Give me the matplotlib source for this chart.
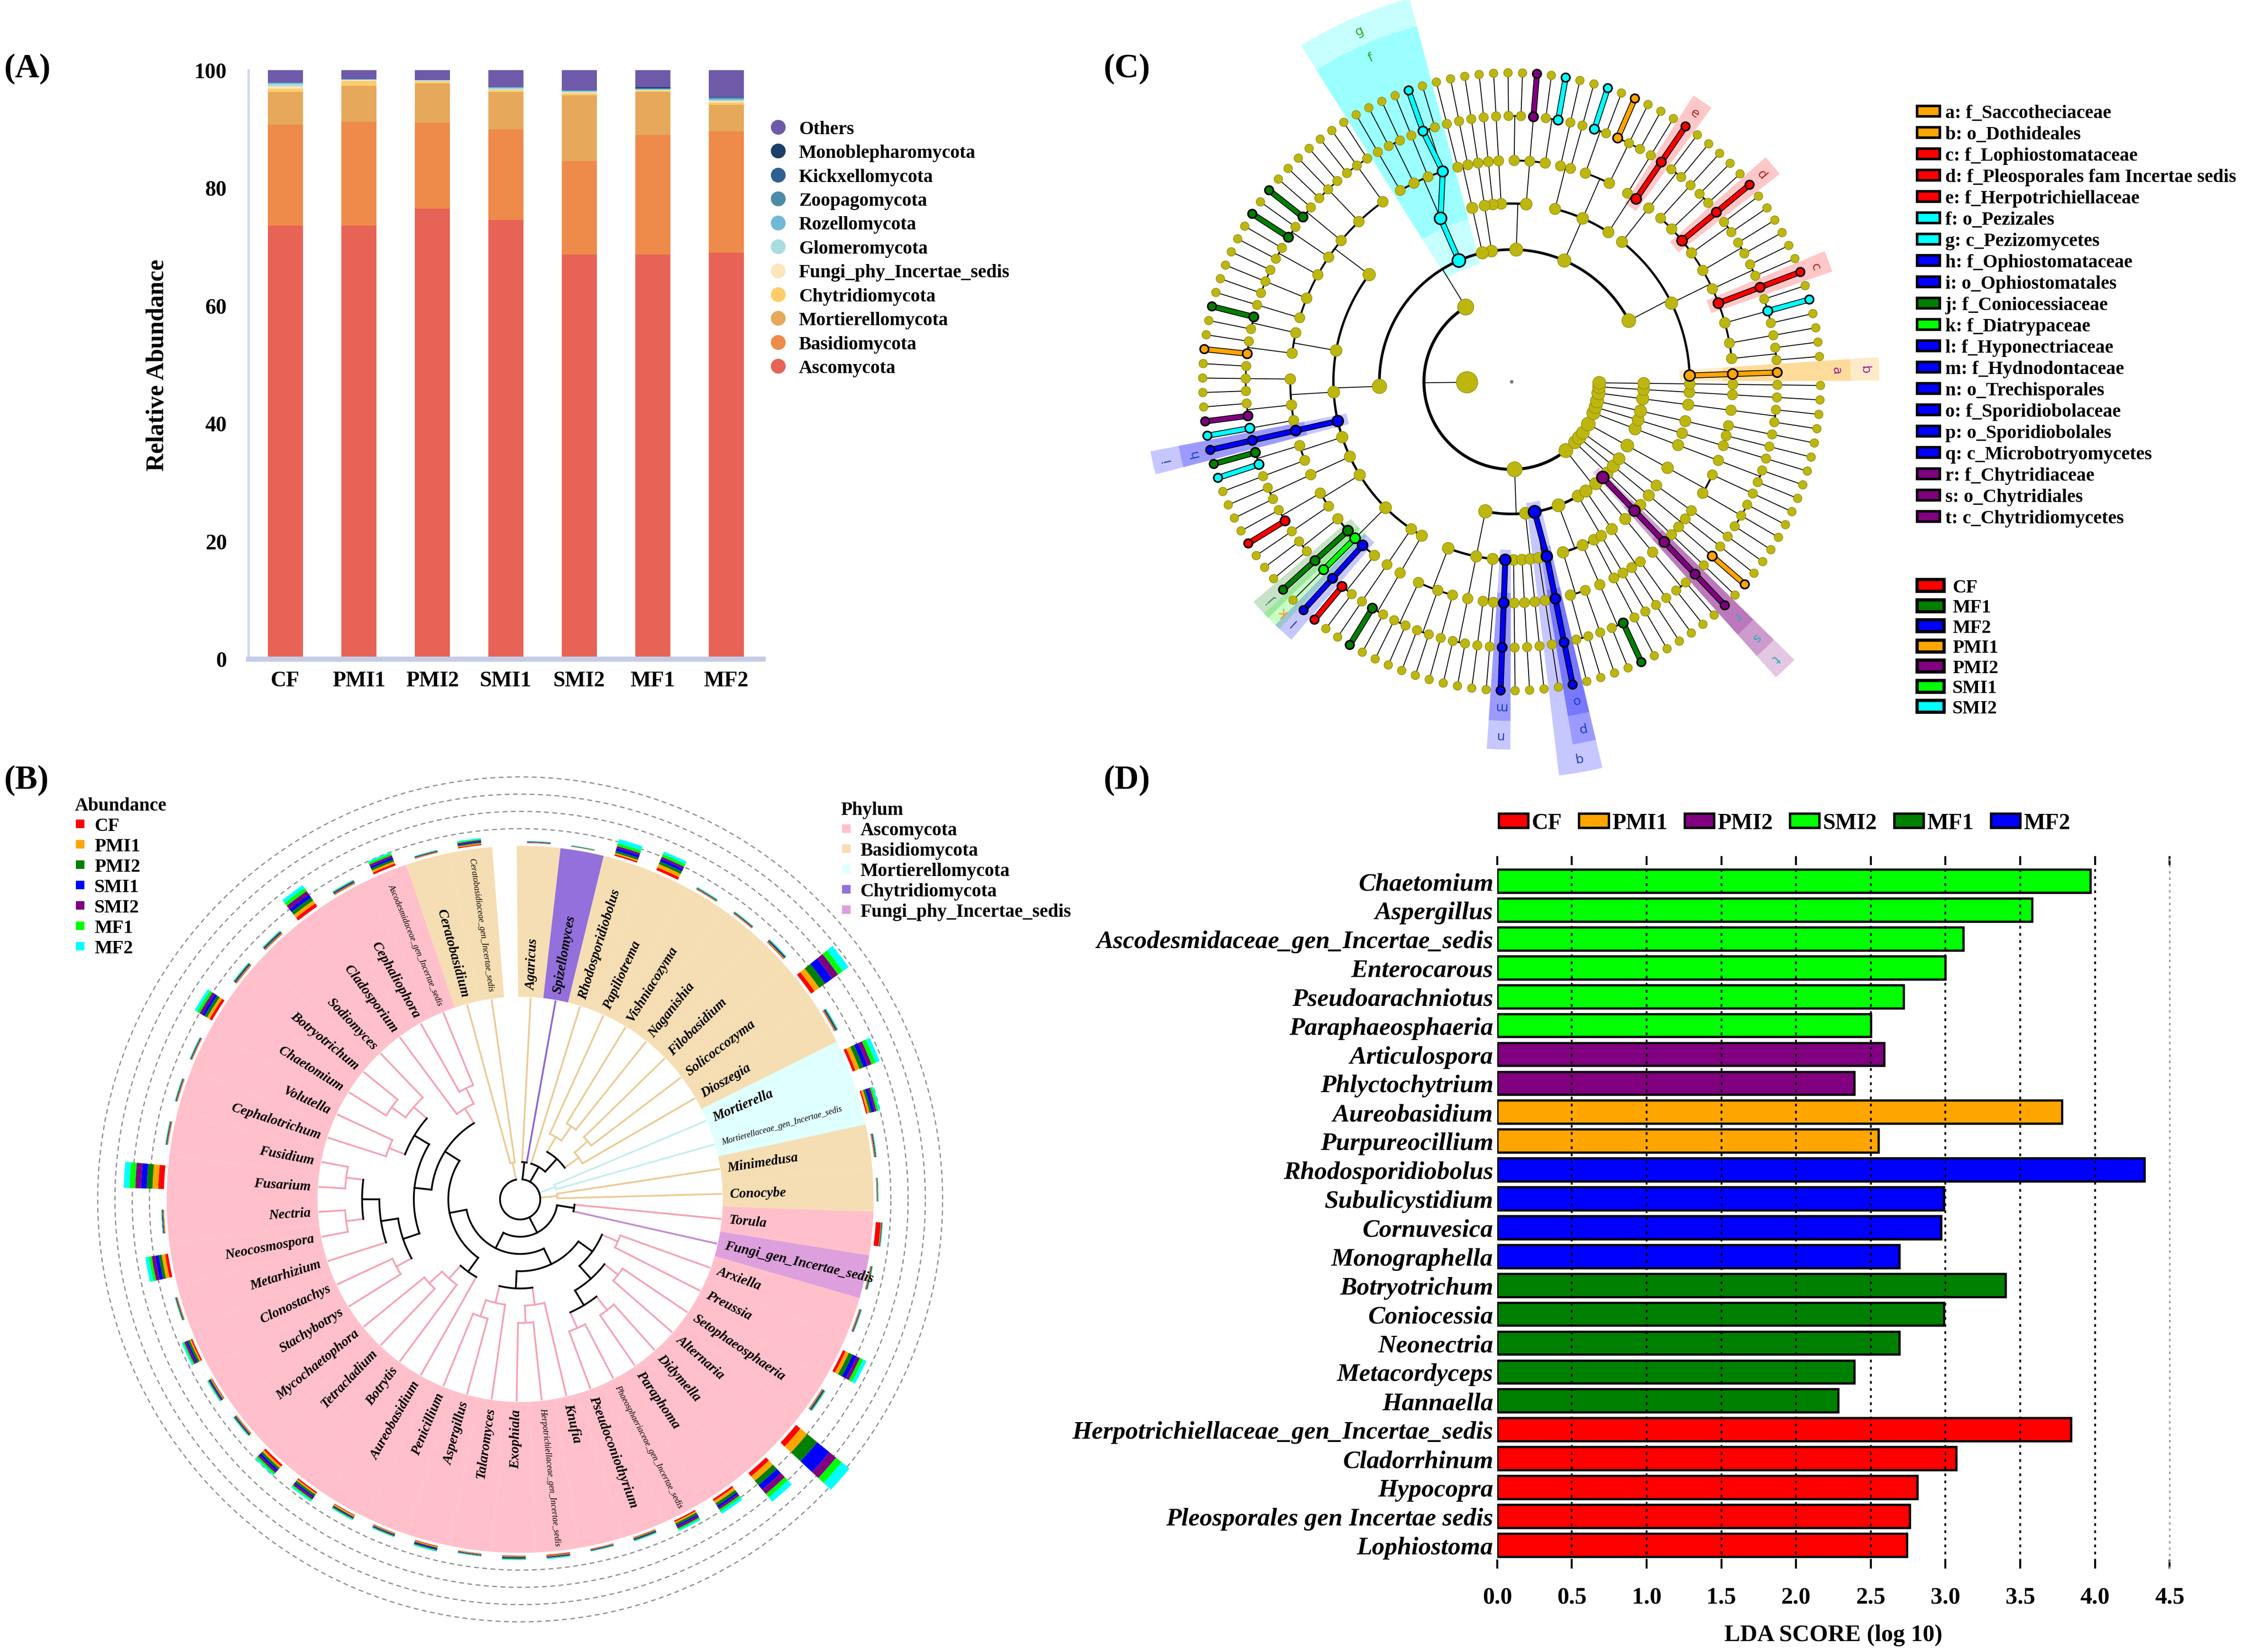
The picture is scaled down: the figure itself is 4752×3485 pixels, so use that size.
import numpy as np
import matplotlib.pyplot as plt
import matplotlib.patheffects as pe
from matplotlib.patches import Wedge, Patch
from matplotlib.lines import Line2D

plt.rcParams['font.family'] = ['Liberation Serif', 'DejaVu Serif']
plt.rcParams['font.weight'] = 'bold'

# layout grid of the reference figure (1568 x 1150 units)
W, H = 1568.0, 1150.0
PX = 0.727  # points per layout unit


def fx(x):
    return x / W


def fy(y):
    return 1.0 - y / H


def pol(r, th):
    t = np.deg2rad(th)
    return r * np.cos(t), r * np.sin(t)


# ---------------- (A) phylum composition (%) ----------------
samples = ['CF', 'PMI1', 'PMI2', 'SMI1', 'SMI2', 'MF1', 'MF2']
ascomycota = [73.6, 73.6, 76.5, 74.5, 68.7, 68.7, 69.0]
basidiomycota = [17.1, 17.6, 14.5, 15.4, 15.8, 20.2, 20.6]
mortierellomycota = [5.6, 6.1, 6.7, 6.4, 11.2, 7.4, 4.5]
chytridiomycota = [0.5, 0.8, 0.3, 0.25, 0.3, 0.2, 0.4]
fungi_phy_incertae = [0.4, 0.15, 0.1, 0.15, 0.15, 0.1, 0.2]
glomeromycota = [0.4, 0.1, 0.15, 0.2, 0.2, 0.1, 0.2]
rozellomycota = [0.2, 0.05, 0.05, 0.2, 0.15, 0.1, 0.2]
zoopagomycota = [0.05, 0.0, 0.0, 0.0, 0.0, 0.05, 0.2]
kickxellomycota = [0.05, 0.0, 0.0, 0.0, 0.0, 0.05, 0.1]
monoblepharomycota = [0.0, 0.0, 0.0, 0.0, 0.0, 0.2, 0.0]
others = [2.1, 1.6, 1.7, 2.9, 3.5, 2.9, 4.6]

a_names = ['Ascomycota', 'Basidiomycota', 'Mortierellomycota', 'Chytridiomycota',
           'Fungi_phy_Incertae_sedis', 'Glomeromycota', 'Rozellomycota',
           'Zoopagomycota', 'Kickxellomycota', 'Monoblepharomycota', 'Others']
a_values = [ascomycota, basidiomycota, mortierellomycota, chytridiomycota,
            fungi_phy_incertae, glomeromycota, rozellomycota, zoopagomycota,
            kickxellomycota, monoblepharomycota, others]
a_colors = ['#E66356', '#EE8A4A', '#E6A85A', '#FCCD6A', '#FDE5BC', '#A9DDE2',
            '#6FBAD6', '#4C8CAA', '#2F5F90', '#1C3F6A', '#6E5AA8']

# ---------------- (B) phylogenetic tree of genera ----------------
b_leaves = ['Agaricus', 'Spizellomyces', 'Rhodosporidiobolus', 'Papiliotrema',
            'Vishniacozyma', 'Naganishia', 'Filobasidium', 'Solicoccozyma',
            'Dioszegia', 'Mortierella', 'Mortierellaceae_gen_Incertae_sedis',
            'Minimedusa', 'Conocybe', 'Torula', 'Fungi_gen_Incertae_sedis',
            'Arxiella', 'Preussia', 'Setophaeosphaeria', 'Alternaria', 'Didymella',
            'Paraphoma', 'Phaeosphaeriaceae_gen_Incertae_sedis', 'Pseudoconiothyrium',
            'Knufia', 'Herpotrichiellaceae_gen_Incertae_sedis', 'Exophiala',
            'Talaromyces', 'Aspergillus', 'Penicillium', 'Aureobasidium', 'Botrytis',
            'Tetracladium', 'Mycochaetophora', 'Stachybotrys', 'Clonostachys',
            'Metarhizium', 'Neocosmospora', 'Nectria', 'Fusarium', 'Fusidium',
            'Cephalotrichum', 'Volutella', 'Chaetomium', 'Botryotrichum', 'Sodiomyces',
            'Cladosporium', 'Cephaliophora', 'Ascodesmidaceae_gen_Incertae_sedis',
            'Ceratobasidium', 'Ceratobasidiaceae_gen_Incertae_sedis']
b_phylum = (['Basidiomycota', 'Chytridiomycota'] + ['Basidiomycota'] * 7
            + ['Mortierellomycota'] * 2 + ['Basidiomycota'] * 2 + ['Ascomycota']
            + ['Fungi_phy_Incertae_sedis'] + ['Ascomycota'] * 33 + ['Basidiomycota'] * 2)
b_pleo = ((15, 16), ((17, 18), ((19, 20), (21, 22))))
b_euro = ((23, (24, 25)), (26, (27, 28)))
b_leo = (29, (30, (31, 32)))
b_sord = (((33, 34), (35, ((36, 37), (38, 39)))), ((40, 41), ((42, 43), 44)))
b_rest = (45, (46, 47))
b_tree = ((0, 1), (2, ((3, (4, 5)), ((6, 7), 8))), (9, 10), (11, 12),
          ((13, 14), ((b_pleo, b_euro), (b_leo, (b_sord, b_rest)))), (48, 49))

phylum_names = ['Ascomycota', 'Basidiomycota', 'Mortierellomycota', 'Chytridiomycota',
                'Fungi_phy_Incertae_sedis']
phylum_fill = ['#FFC0CB', '#F5DEB3', '#E0FFFF', '#9370DB', '#DDA0DD']
phylum_line = ['#F5A3B4', '#EBCB96', '#C6EEEE', '#8A66D6', '#C58BD0']

# abundance of each genus per treatment (outer stacked bars)
ab_cf = [0.2, 0.1, 1, 2, 0.3, 0.3, 0.4, 3, 0.4, 2, 1, 0.3, 0.2, 3.5, 0.3, 0.3, 2, 0.4, 4, 3,
         1.5, 1, 0.4, 0.3, 0.6, 0.4, 0.3, 0.5, 0.4, 0.5, 1, 1.5, 0.4, 0.5, 1, 0.3, 2, 0.3, 4,
         0.3, 0.3, 0.3, 2, 0.4, 0.4, 2.5, 0.4, 1.5, 0.3, 0.7]
ab_pmi1 = [0.2, 0.1, 1, 2.5, 0.3, 0.3, 0.5, 4, 0.4, 3, 1.5, 0.3, 0.2, 0.3, 0.3, 0.3, 2.5, 0.4,
           6, 4, 2, 1, 0.4, 0.3, 0.4, 0.4, 0.3, 0.6, 0.4, 0.9, 1, 1.5, 0.4, 0.6, 1, 0.3, 2.5,
           0.3, 4, 0.3, 0.3, 0.3, 2, 0.4, 0.4, 2.5, 0.4, 1.5, 0.3, 0.7]
ab_pmi2 = [0.2, 0.2, 1.5, 2, 0.3, 0.3, 0.4, 5, 0.5, 3, 1.5, 0.3, 0.2, 0.2, 0.3, 0.3, 3, 0.5,
           9, 4, 2, 1.5, 0.5, 0.3, 0.4, 0.5, 0.3, 0.5, 0.5, 0.5, 1.5, 1.5, 0.5, 0.5, 1.5, 0.3,
           2, 0.3, 4, 0.3, 0.3, 0.3, 2, 0.5, 0.5, 2.5, 0.5, 1.5, 0.3, 0.7]
ab_smi1 = [0.3, 0.2, 2, 2, 0.3, 0.3, 0.5, 6, 0.4, 3, 2, 0.3, 0.2, 0.3, 0.3, 0.3, 3, 0.4, 11,
           4, 1.5, 1, 0.4, 0.3, 0.4, 0.4, 0.3, 0.6, 0.4, 0.5, 1, 1.5, 0.4, 0.6, 1, 0.3, 2.5,
           0.3, 4, 0.3, 0.3, 0.3, 2, 0.4, 0.4, 2.5, 0.4, 1.5, 0.3, 0.7]
ab_smi2 = [0.2, 0.1, 1.5, 1.5, 0.2, 0.3, 0.4, 5, 0.5, 3, 1.5, 0.3, 0.2, 0.2, 0.3, 0.3, 2.5,
           0.5, 6, 4, 1.5, 1.5, 0.5, 0.3, 0.4, 0.5, 0.3, 0.7, 0.5, 0.5, 1.5, 1.5, 0.5, 0.7,
           1.5, 0.3, 2.5, 0.3, 4, 0.3, 0.3, 0.3, 2, 0.5, 0.5, 3, 0.5, 1.5, 0.3, 0.8]
ab_mf1 = [0.2, 0.2, 2, 2, 0.3, 0.3, 0.4, 4, 0.4, 3, 1.5, 0.3, 0.3, 0.3, 0.3, 0.3, 2.5, 0.4,
          5, 3, 1.5, 1, 0.4, 0.3, 0.4, 0.4, 0.3, 0.5, 0.4, 0.6, 1, 1.5, 0.4, 0.5, 1, 0.3, 2,
          0.3, 4, 0.3, 0.3, 0.3, 2, 0.4, 0.4, 2.5, 0.4, 1.5, 0.3, 0.7]
ab_mf2 = [0.2, 0.1, 3, 2, 0.3, 0.2, 0.4, 5, 0.4, 3, 1, 0.2, 0.2, 0.2, 0.2, 0.2, 2.5, 0.4, 7,
          4, 2, 1, 0.4, 0.2, 0.4, 0.4, 0.2, 0.6, 0.4, 0.5, 1, 1, 0.4, 0.6, 1, 0.2, 2.5, 0.2,
          4, 0.2, 0.2, 0.2, 2, 0.4, 0.4, 2.5, 0.4, 1, 0.2, 0.7]
ab_groups = ['CF', 'PMI1', 'PMI2', 'SMI1', 'SMI2', 'MF1', 'MF2']
ab_colors = ['#FF0000', '#FFA500', '#008000', '#0000FF', '#800080', '#00FF00', '#00FFFF']

# ---------------- (C) LEfSe cladogram taxonomy ----------------
# nesting: phylum > class > order > family > genus (value = number of species)
ascomycota_tax = [
    [[[0]],
     [[1, 1], [1], [1, 1, 1], [1], [1, 1], [1, 1], [1, 1], [1], [1, 1], [1]],
     [[1, 1]]],
    [[[1], [1]], [[1, 1, 1], [1, 1]], [[1], [1]]],
    [[[1, 1], [1], [1, 1]], [[1]], [[1]]],
    [[[1]]],
    [[[1], [1]]],
    [[[1, 1], [1], [1, 1], [1]]],
    [[[1, 1, 1], [1, 1, 1], [1, 1], [1, 1], [1, 1], [1, 1, 1], [1]],
     [[1, 1], [1, 1]], [[1, 1, 1], [1, 1], [1]], [[1]], [[1, 1], [1]], [[1, 1]],
     [[1, 1], [1]], [[1, 1], [1], [1], [1], [1, 1]], [[1]], [[1, 1]]],
]
basidiomycota_tax = [
    [[[1, 1], [1, 1], [1]], [[1, 1]], [[1], [1]], [[1]], [[1]], [[1]]],
    [[[1]]],
    [[[1]], [[1]]],
    [[[1, 1], [1]], [[1, 1]], [[1]]],
    [[[1]]],
]
chytridiomycota_tax = [[[[1], [1]]], [[[1, 1]]], [[[1]]]]
minor_phyla_tax = [[[[[1]]]], [[[[1], [1]]]], [[[[1]]]], [[[[1, 1, 1], [1]]]],
                   [[[[1, 1]]]], [[[[1]]]], [[[[1], [1]]]], [[[[1, 1]]]],
                   [[[[1]]]], [[[[1]]]]]
c_tree = [ascomycota_tax, basidiomycota_tax, chytridiomycota_tax] + minor_phyla_tax

c_groups = ['CF', 'MF1', 'MF2', 'PMI1', 'PMI2', 'SMI1', 'SMI2']
c_group_colors = {'CF': '#FF0000', 'MF1': '#007F00', 'MF2': '#0000FF', 'PMI1': '#FFA500',
                  'PMI2': '#800080', 'SMI1': '#00FF00', 'SMI2': '#00FFFF'}
c_marked = [
    ((0, 0, 0), 'PMI1'), ((0, 0, 0, 0), 'PMI1'), ((0, 0, 0, 0, 0), 'PMI1'),
    ((0, 1, 1, 0, 2), 'PMI1'), ((0, 1, 1, 0, 2, 0), 'PMI1'),
    ((0, 6, 1, 1, 1), 'PMI1'), ((0, 6, 1, 1, 1, 0), 'PMI1'),
    ((4, 0, 0, 0, 0), 'PMI1'), ((4, 0, 0, 0, 0, 0), 'PMI1'),
    ((0, 0, 1, 3), 'CF'), ((0, 0, 1, 3, 0), 'CF'), ((0, 0, 1, 3, 0, 0), 'CF'),
    ((0, 0, 1, 7), 'CF'), ((0, 0, 1, 7, 0), 'CF'), ((0, 0, 1, 7, 0, 0), 'CF'),
    ((0, 1, 0, 0), 'CF'), ((0, 1, 0, 0, 0), 'CF'), ((0, 1, 0, 0, 0, 0), 'CF'),
    ((0, 6, 6, 0, 1), 'CF'), ((0, 6, 6, 0, 1, 0), 'CF'),
    ((0, 6, 7, 4, 0), 'CF'), ((0, 6, 7, 4, 0, 0), 'CF'),
    ((0, 5), 'SMI2'), ((0, 5, 0), 'SMI2'), ((0, 5, 0, 0), 'SMI2'),
    ((0, 5, 0, 0, 1), 'SMI2'), ((0, 5, 0, 0, 1, 0), 'SMI2'),
    ((0, 0, 1, 2, 1), 'SMI2'), ((0, 0, 1, 2, 1, 0), 'SMI2'),
    ((0, 1, 1, 1, 1), 'SMI2'), ((0, 1, 1, 1, 1, 0), 'SMI2'),
    ((0, 2, 0, 0, 0), 'SMI2'), ((0, 2, 0, 0, 0, 0), 'SMI2'),
    ((0, 6, 2, 2, 0), 'SMI2'), ((0, 6, 2, 2, 0, 0), 'SMI2'),
    ((0, 6, 4, 0, 1), 'SMI2'), ((0, 6, 4, 0, 1, 0), 'SMI2'),
    ((0, 2, 0, 1, 0), 'PMI2'), ((0, 2, 0, 1, 0, 0), 'PMI2'),
    ((0, 6, 2, 1, 1), 'PMI2'), ((0, 6, 2, 1, 1, 0), 'PMI2'),
    ((2, 2), 'PMI2'), ((2, 2, 0), 'PMI2'), ((2, 2, 0, 0), 'PMI2'),
    ((2, 2, 0, 0, 0), 'PMI2'), ((2, 2, 0, 0, 0, 0), 'PMI2'),
    ((0, 6, 3), 'MF2'), ((0, 6, 3, 0), 'MF2'), ((0, 6, 3, 0, 0), 'MF2'),
    ((0, 6, 3, 0, 0, 0), 'MF2'),
    ((0, 6, 7, 3), 'MF2'), ((0, 6, 7, 3, 0), 'MF2'), ((0, 6, 7, 3, 0, 0), 'MF2'),
    ((1, 0, 3), 'MF2'), ((1, 0, 3, 0), 'MF2'), ((1, 0, 3, 0, 0), 'MF2'),
    ((1, 0, 3, 0, 0, 0), 'MF2'),
    ((1, 2), 'MF2'), ((1, 2, 1), 'MF2'), ((1, 2, 1, 0), 'MF2'), ((1, 2, 1, 0, 0), 'MF2'),
    ((1, 2, 1, 0, 0, 0), 'MF2'),
    ((0, 6, 0, 2, 1), 'MF1'), ((0, 6, 0, 2, 1, 0), 'MF1'),
    ((0, 6, 0, 3, 1), 'MF1'), ((0, 6, 0, 3, 1, 0), 'MF1'),
    ((0, 6, 1, 0, 0), 'MF1'), ((0, 6, 1, 0, 0, 0), 'MF1'),
    ((0, 6, 4, 0, 0), 'MF1'), ((0, 6, 4, 0, 0, 0), 'MF1'),
    ((0, 6, 7, 1), 'MF1'), ((0, 6, 7, 1, 0), 'MF1'), ((0, 6, 7, 1, 0, 0), 'MF1'),
    ((0, 6, 9, 0, 0), 'MF1'), ((0, 6, 9, 0, 0, 0), 'MF1'),
    ((1, 3, 1, 0, 1), 'MF1'), ((1, 3, 1, 0, 1, 0), 'MF1'),
    ((0, 6, 7, 2), 'SMI1'), ((0, 6, 7, 2, 0), 'SMI1'),
]
c_letters = [('a', (0, 0, 0, 0)), ('b', (0, 0, 0)), ('c', (0, 0, 1, 3)), ('d', (0, 0, 1, 7)),
             ('e', (0, 1, 0, 0)), ('f', (0, 5, 0)), ('g', (0, 5)), ('h', (0, 6, 3, 0)),
             ('i', (0, 6, 3)), ('j', (0, 6, 7, 1)), ('k', (0, 6, 7, 2)), ('l', (0, 6, 7, 3)),
             ('m', (1, 0, 3, 0)), ('n', (1, 0, 3)), ('o', (1, 2, 1, 0)), ('p', (1, 2, 1)),
             ('q', (1, 2)), ('r', (2, 2, 0, 0)), ('s', (2, 2, 0)), ('t', (2, 2))]
c_legend_labels = ['a: f_Saccotheciaceae', 'b: o_Dothideales', 'c: f_Lophiostomataceae',
                   'd: f_Pleosporales fam Incertae sedis', 'e: f_Herpotrichiellaceae',
                   'f: o_Pezizales', 'g: c_Pezizomycetes', 'h: f_Ophiostomataceae',
                   'i: o_Ophiostomatales', 'j: f_Coniocessiaceae', 'k: f_Diatrypaceae',
                   'l: f_Hyponectriaceae', 'm: f_Hydnodontaceae', 'n: o_Trechisporales',
                   'o: f_Sporidiobolaceae', 'p: o_Sporidiobolales',
                   'q: c_Microbotryomycetes', 'r: f_Chytridiaceae', 's: o_Chytridiales',
                   't: c_Chytridiomycetes']

# ---------------- (D) LDA scores ----------------
lda_taxa = ['Chaetomium', 'Aspergillus', 'Ascodesmidaceae_gen_Incertae_sedis', 'Enterocarous',
            'Pseudoarachniotus', 'Paraphaeosphaeria', 'Articulospora', 'Phlyctochytrium',
            'Aureobasidium', 'Purpureocillium', 'Rhodosporidiobolus', 'Subulicystidium',
            'Cornuvesica', 'Monographella', 'Botryotrichum', 'Coniocessia', 'Neonectria',
            'Metacordyceps', 'Hannaella', 'Herpotrichiellaceae_gen_Incertae_sedis',
            'Cladorrhinum', 'Hypocopra', 'Pleosporales gen Incertae sedis', 'Lophiostoma']
lda_score = [3.97, 3.58, 3.12, 3.00, 2.72, 2.50, 2.59, 2.39, 3.78, 2.55, 4.33, 2.99, 2.97,
             2.69, 3.40, 2.99, 2.69, 2.39, 2.28, 3.84, 3.07, 2.81, 2.76, 2.74]
lda_group = ['SMI2'] * 6 + ['PMI2'] * 2 + ['PMI1'] * 2 + ['MF2'] * 4 + ['MF1'] * 5 + ['CF'] * 5
lda_legend = ['CF', 'PMI1', 'PMI2', 'SMI2', 'MF1', 'MF2']
lda_colors = {'CF': '#FF0000', 'PMI1': '#FFA500', 'PMI2': '#800080', 'SMI2': '#00FF00',
              'MF1': '#008000', 'MF2': '#0000FF'}

fig = plt.figure(figsize=(15.84, 11.62), dpi=300)

# ======================= (A) =======================
axA = fig.add_axes([fx(173), fy(459), 358 / W, 410 / H])
xs = np.arange(len(samples))
bottom = np.zeros(len(samples))
for vals, col in zip(a_values, a_colors):
    axA.bar(xs, vals, 0.48, bottom=bottom, color=col, linewidth=0)
    bottom += np.array(vals)
axA.set_xlim(-0.5, 6.5)
axA.set_ylim(0, 100)
axA.set_yticks([0, 20, 40, 60, 80, 100])
axA.set_xticks(xs, samples)
axA.tick_params(length=0, labelsize=11)
axA.tick_params(axis='y', pad=11)
axA.tick_params(axis='x', pad=6)
for s in ['top', 'right']:
    axA.spines[s].set_visible(False)
axA.spines['left'].set_color('#D3D8EC')
axA.spines['left'].set_linewidth(1.2)
axA.spines['bottom'].set_color('#C5CCE6')
axA.spines['bottom'].set_linewidth(2.6)
axA.set_ylabel('Relative Abundance', fontsize=12.5, fontweight='bold')
axA.yaxis.set_label_coords(-0.155, 0.5)
a_handles = [Line2D([], [], ls='', marker='o', markersize=7.5, markerfacecolor=c,
                    markeredgecolor='none') for c in a_colors[::-1]]
fig.legend(a_handles, a_names[::-1], loc='upper left', bbox_to_anchor=(fx(535), fy(84)),
           frameon=False, fontsize=9.5, handlelength=1.0, handletextpad=0.6,
           labelspacing=0.34, borderpad=0, borderaxespad=0)

# ======================= (C) cladogram =======================
axC = fig.add_axes([fx(790), fy(540), 540 / W, 540 / H])
axC.set_xlim(-262, 278)
axC.set_ylim(-274, 266)
axC.axis('off')

C_R = [31, 61, 92, 124, 154, 185, 215]
C_NODE = [6.5, 5.0, 4.6, 4.2, 3.9, 3.6, 3.3]
C_ARC_LW = [1.5, 1.35, 1.15, 0.95, 0.75, 0.6]


def c_count(sub, level):
    if level == 5:
        return max(sub, 1)
    return sum(c_count(ch, level + 1) for ch in sub)


c_total = c_count(c_tree, 0)
c_step = 360.0 / c_total
c_theta0 = 2.0
c_nodes = {}
c_counter = [0]


def c_build(path, sub, level):
    if level == 6 or (level == 5 and sub == 0):
        th = c_theta0 + c_counter[0] * c_step
        c_counter[0] += 1
        c_nodes[path] = dict(level=level, th=th, n=1, kids=[], lo=th, hi=th)
        return
    kid_subs = [None] * sub if level == 5 else sub
    kids = []
    for i, ch in enumerate(kid_subs):
        c_build(path + (i,), ch, level + 1)
        kids.append(path + (i,))
    lo = c_nodes[kids[0]]['lo']
    hi = c_nodes[kids[-1]]['hi']
    n = sum(c_nodes[k]['n'] for k in kids)
    c_nodes[path] = dict(level=level, th=0.5 * (lo + hi), n=n, kids=kids, lo=lo, hi=hi)


c_build((), c_tree, 0)
marked = dict(c_marked)

# shaded clades with letters
lab_r = {2: 266, 3: 246, 4: 226}
out_r = {2: 276, 3: 256, 4: 236}
letter_col = {'CF': '#B22222', 'MF1': '#2E8B57', 'MF2': '#1F3FBF', 'PMI1': '#A020A0',
              'PMI2': '#20B2AA', 'SMI1': '#FF8C00', 'SMI2': '#22AA22'}
for letter, path in sorted(c_letters, key=lambda t: len(t[1])):
    nd = c_nodes[path]
    L = nd['level']
    col = c_group_colors[marked[path]]
    t1 = nd['lo'] - c_step / 2 - 0.5
    t2 = nd['hi'] + c_step / 2 + 0.5
    r_in = C_R[L] - 7
    axC.add_patch(Wedge((0, 0), out_r[L], t1, t2, width=out_r[L] - r_in,
                        facecolor=col, alpha=0.22, lw=0, zorder=0.5))
    lx, ly = pol(lab_r[L], nd['th'])
    axC.text(lx, ly, letter, fontsize=6.5, family='DejaVu Sans', fontweight='normal',
             color=letter_col[marked[path]], ha='center', va='center',
             rotation=nd['th'] - 90, zorder=4)

# branches
for path, nd in c_nodes.items():
    if not nd['kids']:
        continue
    L = nd['level']
    x0, y0 = pol(C_R[L], nd['th'])
    x1, y1 = pol(C_R[L + 1], nd['th'])
    axC.plot([x0, x1], [y0, y1], color='black', lw=0.45, zorder=1)
    ths = [c_nodes[k]['th'] for k in nd['kids']]
    if len(ths) > 1:
        t = np.linspace(min(ths), max(ths), 90)
        ax_, ay_ = pol(C_R[L + 1], t)
        axC.plot(ax_, ay_, color='black', lw=C_ARC_LW[L], zorder=1,
                 solid_capstyle='butt')

# coloured biomarker branches
for path, grp in c_marked:
    parent = path[:-1]
    if parent in marked and len(path) > 1:
        p = c_nodes[parent]
        c = c_nodes[path]
        x0, y0 = pol(C_R[p['level']], p['th'])
        x1, y1 = pol(C_R[c['level']], c['th'])
        axC.plot([x0, x1], [y0, y1], color=c_group_colors[grp], lw=2.2, zorder=2,
                 solid_capstyle='round',
                 path_effects=[pe.Stroke(linewidth=3.0, foreground='black'), pe.Normal()])

# nodes
xs_n, ys_n, ss_n, fc_n, ec_n, lw_n = [], [], [], [], [], []
for path, nd in c_nodes.items():
    L = nd['level']
    r_px = C_NODE[L] * (0.9 + 0.05 * np.log(nd['n']))
    x, y = pol(C_R[L], nd['th'])
    xs_n.append(x)
    ys_n.append(y)
    ss_n.append((2 * r_px * PX) ** 2)
    if path in marked:
        fc_n.append(c_group_colors[marked[path]])
        ec_n.append('black')
        lw_n.append(0.8)
    else:
        fc_n.append('#BDB60E')
        ec_n.append('#8F8A0B')
        lw_n.append(0.3)
order = np.argsort([1 if e == 'black' else 0 for e in ec_n], kind='stable')
axC.scatter(np.array(xs_n)[order], np.array(ys_n)[order], s=np.array(ss_n)[order],
            c=np.array(fc_n)[order], edgecolors=np.array(ec_n)[order],
            linewidths=np.array(lw_n)[order], zorder=3)
axC.scatter([0], [0], s=0.6, c='#777777', zorder=3)

c_leg_groups = [marked[p] for _, p in c_letters]
h1 = [Patch(facecolor=c_group_colors[g], edgecolor='black', lw=1.3) for g in c_leg_groups]
fig.legend(h1, c_legend_labels, loc='upper left', bbox_to_anchor=(fx(1334), fy(73)),
           frameon=False, fontsize=9.6, handlelength=1.2, handleheight=0.5,
           handletextpad=0.3, labelspacing=0.2, borderpad=0, borderaxespad=0)
h2 = [Patch(facecolor=c_group_colors[g], edgecolor='black', lw=1.6) for g in c_groups]
fig.legend(h2, c_groups, loc='upper left', bbox_to_anchor=(fx(1334), fy(403)),
           frameon=False, fontsize=9.5, handlelength=1.45, handleheight=0.6,
           handletextpad=0.45, labelspacing=0.14, borderpad=0, borderaxespad=0)

# ======================= (B) circular tree =======================
axB = fig.add_axes([fx(40), 0.0, 650 / W, 650 / H])
axB.set_xlim(-322, 328)
axB.set_ylim(-315, 335)
axB.axis('off')

B_TH0, B_DTH = 87.0, -7.12
B_R0, B_STEP, B_TIP = 14.0, 12.0, 140.0
B_OUT = 246.0
B_BAR0 = 248.0


def b_angle(i):
    return B_TH0 + B_DTH * i


def b_leafset(node):
    if isinstance(node, int):
        return [node]
    out = []
    for ch in node:
        out += b_leafset(ch)
    return out


def b_color(node):
    lv = b_leafset(node)
    ph = set(b_phylum[i] for i in lv)
    if len(ph) == 1 and len(lv) <= 3:
        return phylum_line[phylum_names.index(ph.pop())]
    return 'black'


def b_draw(node, depth):
    if isinstance(node, int):
        return b_angle(node)
    r_here = B_R0 + depth * B_STEP
    angs = []
    for ch in node:
        a = b_draw(ch, depth + 1)
        r_ch = B_TIP if isinstance(ch, int) else B_R0 + (depth + 1) * B_STEP
        x0, y0 = pol(r_here, a)
        x1, y1 = pol(r_ch, a)
        axB.plot([x0, x1], [y0, y1], color=b_color(ch), lw=0.9, zorder=2)
        angs.append(a)
    t = np.linspace(min(angs), max(angs), 120)
    ax_, ay_ = pol(r_here, t)
    axB.plot(ax_, ay_, color=b_color(node), lw=0.9, zorder=2)
    return 0.5 * (min(angs) + max(angs))


# phylum coloured label background
for i, name in enumerate(b_leaves):
    th = b_angle(i)
    col = phylum_fill[phylum_names.index(b_phylum[i])]
    axB.add_patch(Wedge((0, 0), B_OUT, th - 3.56, th + 3.56, width=B_OUT - 141,
                        facecolor=col, lw=0, zorder=0))

b_draw(b_tree, 0)

# leaf labels
for i, name in enumerate(b_leaves):
    th = b_angle(i)
    x, y = pol(146, th)
    long = 'gen_Incertae' in name and not name.startswith('Fungi')
    thn = (th + 180) % 360 - 180
    if -90 <= thn <= 90:
        rot, ha = thn, 'left'
    else:
        rot, ha = thn + 180, 'right'
    axB.text(x, y, name, fontsize=4.3 if long else 7.0, style='italic',
             fontweight='normal' if long else 'bold', rotation=rot, ha=ha, va='center',
             rotation_mode='anchor', zorder=3)

# dashed guide circles
tt = np.linspace(0, 360, 400)
for rr in [258, 270, 282, 294]:
    cx, cy = pol(rr, tt)
    axB.plot(cx, cy, color='#8C8C8C', lw=0.6, ls=(0, (4, 3)), zorder=1)

# stacked abundance bars
ab_all = [ab_cf, ab_pmi1, ab_pmi2, ab_smi1, ab_smi2, ab_mf1, ab_mf2]
for i in range(len(b_leaves)):
    th = b_angle(i)
    r = B_BAR0
    for vals, col in zip(ab_all, ab_colors):
        v = vals[i]
        if v <= 0:
            continue
        axB.add_patch(Wedge((0, 0), r + v, th - 1.9, th + 1.9, width=v,
                            facecolor=col, lw=0, zorder=1.5))
        r += v

hb1 = [Line2D([], [], ls='', marker='s', markersize=4.2, markerfacecolor=c,
              markeredgecolor='none') for c in ab_colors]
fig.legend(hb1, ab_groups, title='Abundance', loc='upper left',
           bbox_to_anchor=(fx(52), fy(555)), alignment='left', frameon=False,
           fontsize=9.5, title_fontproperties={'weight': 'bold', 'size': 9.5},
           handlelength=0.6, handletextpad=0.45, labelspacing=0.15, borderpad=0,
           borderaxespad=0)
hb2 = [Line2D([], [], ls='', marker='s', markersize=4.2, markerfacecolor=c,
              markeredgecolor='none') for c in phylum_fill]
fig.legend(hb2, phylum_names, title='Phylum', loc='upper left',
           bbox_to_anchor=(fx(585), fy(558)), alignment='left', frameon=False,
           fontsize=9.5, title_fontproperties={'weight': 'bold', 'size': 9.5},
           handlelength=0.6, handletextpad=0.45, labelspacing=0.15, borderpad=0,
           borderaxespad=0)

# ======================= (D) LDA =======================
axD = fig.add_axes([fx(1042), fy(1092), (1510 - 1042) / W, (1092 - 596) / H])
ypos = np.arange(len(lda_taxa))
axD.barh(ypos, lda_score, height=0.8, color=[lda_colors[g] for g in lda_group],
         edgecolor='black', linewidth=1.1, zorder=2)
axD.set_xlim(0, 4.5)
axD.set_ylim(len(lda_taxa) - 1 + 0.82, -0.87)
for xv in np.arange(0.5, 4.01, 0.5):
    axD.axvline(xv, color='black', lw=0.9, ls=(0, (1.5, 2.5)), zorder=3)
axD.axvline(4.5, color='#999999', lw=0.8, ls=(0, (1.5, 2.5)), zorder=3, clip_on=False)
axD.set_xticks(np.arange(0, 4.51, 0.5), [f'{v:.1f}' for v in np.arange(0, 4.51, 0.5)])
axD.set_yticks(ypos, lda_taxa)
axD.tick_params(axis='x', direction='in', length=4.5, width=1.0, top=True, bottom=True,
                labelsize=12, pad=9)
axD.tick_params(axis='y', length=0, labelsize=12.8, pad=2)
for lab in axD.get_yticklabels():
    lab.set_fontstyle('italic')
for s in axD.spines.values():
    s.set_visible(False)
axD.set_xlabel('LDA SCORE (log 10)', fontsize=12, fontweight='bold', labelpad=8)
hd = [Patch(facecolor=lda_colors[g], edgecolor='black', lw=1.2) for g in lda_legend]
fig.legend(hd, lda_legend, loc='center left', bbox_to_anchor=(fx(1043), fy(573)),
           ncol=6, frameon=False, fontsize=11.5, handlelength=1.3, handleheight=0.6,
           handletextpad=0.15, columnspacing=0.75, borderpad=0, borderaxespad=0)

# panel letters
for lab, x, y in [('(A)', 3, 48), ('(C)', 768, 48), ('(B)', 3, 543), ('(D)', 768, 543)]:
    fig.text(fx(x), fy(y), lab, fontsize=17, fontweight='bold', ha='left', va='center')

fig.savefig('out.png', dpi=300)
